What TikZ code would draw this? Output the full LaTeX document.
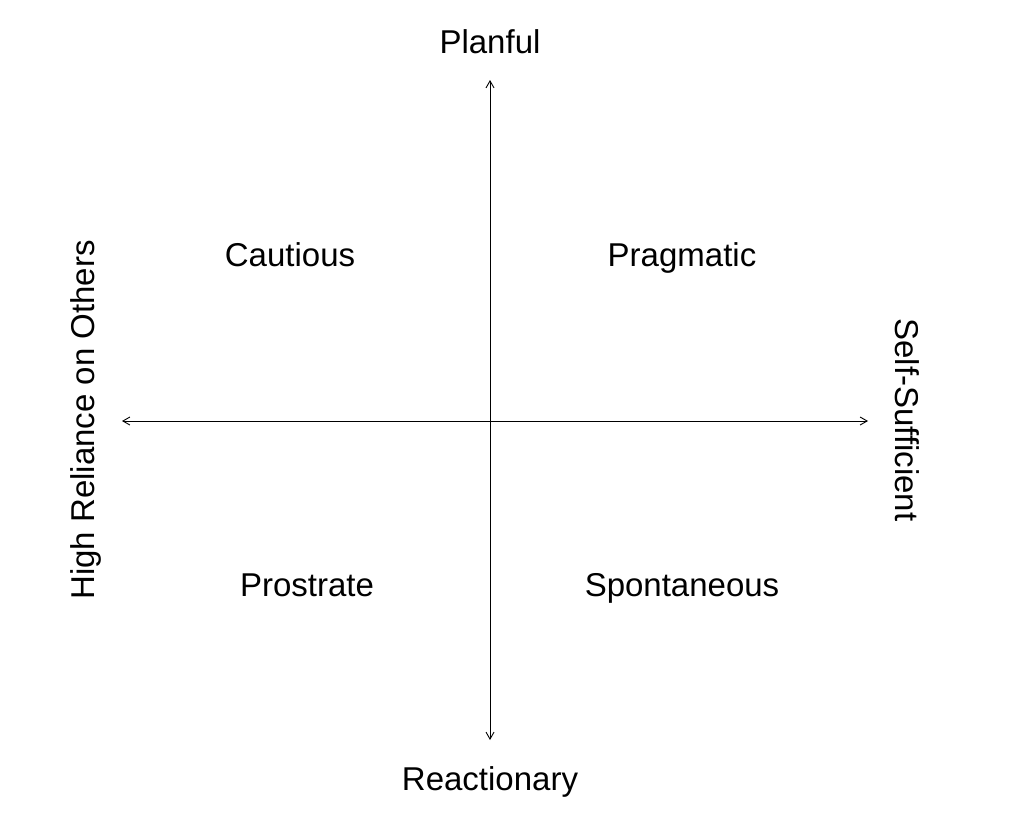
\documentclass[tikz,border=0pt]{standalone}
\usepackage{fontspec}
\setmainfont{Liberation Sans}
\usetikzlibrary{arrows.meta}
\begin{document}
\begin{tikzpicture}[x=1pt,y=-1pt,
  lbl/.style={font=\fontsize{33}{38}\selectfont, inner sep=0pt, text height=24pt, text depth=7pt},
  axis/.style={line width=0.9pt, {Straight Barb[length=7pt,width=8pt]}-{Straight Barb[length=7pt,width=8pt]}}]
\useasboundingbox (0,0) rectangle (1024,838);
\coordinate (top) at (490,80);
\coordinate (bot) at (490,740);
\coordinate (lft) at (122,421);
\coordinate (rgt) at (868,421);
\draw[axis] (top) -- (bot);
\draw[axis] (lft) -- (rgt);
\node[lbl] (planful) at (490,45) {Planful};
\node[lbl] (react) at (490,782) {Reactionary};
\node[lbl] (caut) at (290,258) {Cautious};
\node[lbl] (prag) at (682,258) {Pragmatic};
\node[lbl] (pros) at (307,588) {Prostrate};
\node[lbl] (spon) at (682,588) {Spontaneous};
\node[lbl,rotate=90] (high) at (86,420) {High Reliance on Others};
\node[lbl,rotate=-90] (self) at (904,420) {Self-Sufficient};
\end{tikzpicture}
\end{document}
